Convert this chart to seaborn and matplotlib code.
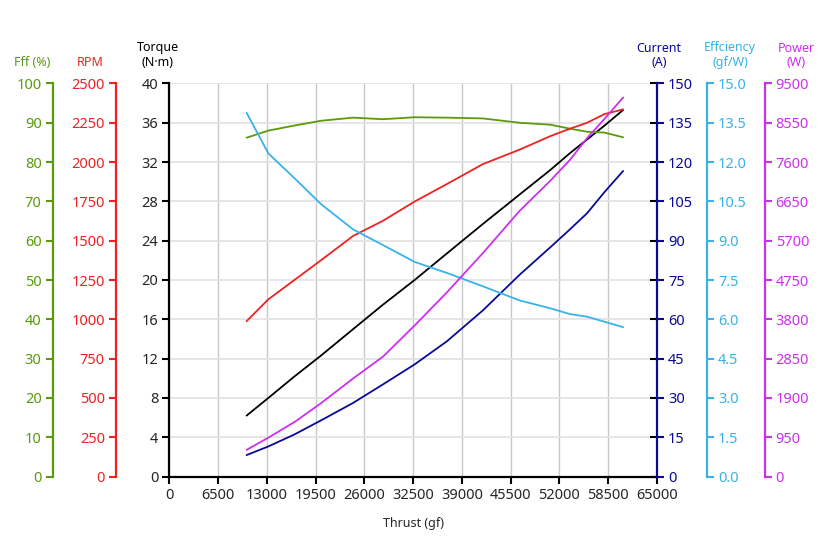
import matplotlib
matplotlib.use("Agg")
import matplotlib.pyplot as plt
import seaborn as sns

sns.set_theme(style="white")
plt.rcParams["font.family"] = ["Noto Sans", "DejaVu Sans"]

# test points (thrust, gf) and measured curves
thrust = [10300, 13200, 16700, 20200, 24500, 28500, 32700, 37000, 41800,
          46700, 50800, 53400, 55700, 58000, 60500]
fff = [86.2, 88.0, 89.3, 90.5, 91.3, 90.9, 91.4, 91.3, 91.1,
       90.0, 89.5, 88.5, 87.7, 87.5, 86.3]
rpm = [988, 1127, 1251, 1375, 1530, 1627, 1749, 1860, 1987,
       2079, 2165, 2212, 2250, 2305, 2335]
torque = [6.2, 8.0, 10.2, 12.3, 15.0, 17.5, 20.0, 22.7, 25.7,
          28.7, 31.2, 32.9, 34.3, 35.7, 37.3]
current = [8.2, 11.5, 16.1, 21.4, 28.1, 35.2, 42.8, 51.6, 63.4,
           77.0, 87.5, 94.3, 100.5, 108.5, 116.6]
efficiency = [13.88, 12.33, 11.38, 10.40, 9.43, 8.83, 8.19, 7.77, 7.26,
              6.72, 6.42, 6.20, 6.10, 5.91, 5.70]
power = [645, 940, 1320, 1770, 2370, 2900, 3650, 4450, 5400,
         6420, 7150, 7650, 8180, 8640, 9160]

x_ticks = list(range(0, 65001, 6500))
fff_ticks = list(range(0, 101, 10))
rpm_ticks = list(range(0, 2501, 250))
torque_ticks = list(range(0, 41, 4))
current_ticks = list(range(0, 151, 15))
eff_ticks = [i * 1.5 for i in range(11)]
power_ticks = list(range(0, 9501, 950))

C_FFF = "#5b9a0c"
C_RPM = "#ee2222"
C_TQ = "#000000"
C_CUR = "#0a0a96"
C_EFF = "#38b2e8"
C_PWR = "#cc30ee"

TICK_FS = 10.5
LAB_FS = 9

fig, ax = plt.subplots(figsize=(8.4, 5.6), dpi=100)
fig.subplots_adjust(left=0.2016, right=0.782, bottom=0.149, top=0.851)


def style_axis(a, side, color, offset, lim, ticks, fmt=None):
    a.set_ylim(*lim)
    a.set_yticks(ticks)
    if fmt:
        a.set_yticklabels([fmt.format(t) for t in ticks])
    for s in ["top", "bottom", "left", "right"]:
        a.spines[s].set_visible(False)
    a.spines[side].set_visible(True)
    a.spines[side].set_color(color)
    a.spines[side].set_linewidth(1.6)
    a.spines[side].set_position(("outward", offset))
    a.yaxis.set_ticks_position(side)
    a.tick_params(axis="y", direction="out", length=5, width=1.5, color=color,
                  labelcolor=color, labelsize=TICK_FS, pad=3,
                  left=(side == "left"), right=(side == "right"),
                  labelleft=(side == "left"), labelright=(side == "right"))
    a.grid(False)


# main axis: torque
ax.set_xlim(0, 65000)
ax.set_xticks(x_ticks)
ax.set_ylim(0, 40)
ax.set_yticks(torque_ticks)
ax.grid(True, axis="x", color="#c8c8c8", linewidth=1.0)
ax.grid(True, axis="y", color="#e2e2e2", linewidth=1.2)
ax.set_axisbelow(True)
for s in ["top", "right"]:
    ax.spines[s].set_visible(False)
for s in ["left", "bottom"]:
    ax.spines[s].set_color("black")
    ax.spines[s].set_linewidth(1.6)
ax.tick_params(axis="both", direction="out", length=5, width=1.5, color="black",
               labelsize=TICK_FS, pad=3, left=True, bottom=True)
ax.set_xlabel("Thrust (gf)", fontsize=LAB_FS, labelpad=10)
ax.set_ylabel("")

# black inward ticks on the right edge
ax_in = ax.twinx()
ax_in.set_ylim(0, 40)
ax_in.set_yticks(torque_ticks)
for s in ax_in.spines.values():
    s.set_visible(False)
ax_in.tick_params(axis="y", direction="in", length=5, width=1.5, color="black",
                  right=True, labelright=False)
ax_in.grid(False)

ax_fff = ax.twinx()
style_axis(ax_fff, "left", C_FFF, 84, (0, 100), fff_ticks)
ax_rpm = ax.twinx()
style_axis(ax_rpm, "left", C_RPM, 38.5, (0, 2500), rpm_ticks)
ax_cur = ax.twinx()
style_axis(ax_cur, "right", C_CUR, 0, (0, 150), current_ticks)
ax_eff = ax.twinx()
style_axis(ax_eff, "right", C_EFF, 36, (0, 15), eff_ticks, "{:.1f}")
ax_pwr = ax.twinx()
style_axis(ax_pwr, "right", C_PWR, 77.5, (0, 9500), power_ticks)

lw = 1.3
sns.lineplot(x=thrust, y=fff, ax=ax_fff, color=C_FFF, linewidth=lw)
sns.lineplot(x=thrust, y=efficiency, ax=ax_eff, color=C_EFF, linewidth=lw)
sns.lineplot(x=thrust, y=rpm, ax=ax_rpm, color=C_RPM, linewidth=lw)
sns.lineplot(x=thrust, y=current, ax=ax_cur, color=C_CUR, linewidth=lw)
sns.lineplot(x=thrust, y=power, ax=ax_pwr, color=C_PWR, linewidth=lw)
sns.lineplot(x=thrust, y=torque, ax=ax_in, color=C_TQ, linewidth=lw)
for a in [ax_fff, ax_rpm, ax_cur, ax_eff, ax_pwr, ax_in]:
    a.set_ylabel("")
    a.set_xlim(0, 65000)

# axis titles
W, H = 840, 560
def title(px, py, txt, color):
    fig.text(px / W, 1 - py / H, txt, color=color, fontsize=LAB_FS,
             ha="center", va="bottom", linespacing=1.15)

title(32, 69, "Fff (%)", C_FFF)
title(90, 69, "RPM", C_RPM)
title(158, 69, "Torque\n(N\u00b7m)", C_TQ)
title(659, 69, "Current\n(A)", C_CUR)
title(730, 69, "Effciency\n(gf/W)", C_EFF)
title(796, 69, "Power\n(W)", C_PWR)

plt.savefig("out.png", dpi=100)
plt.close()
